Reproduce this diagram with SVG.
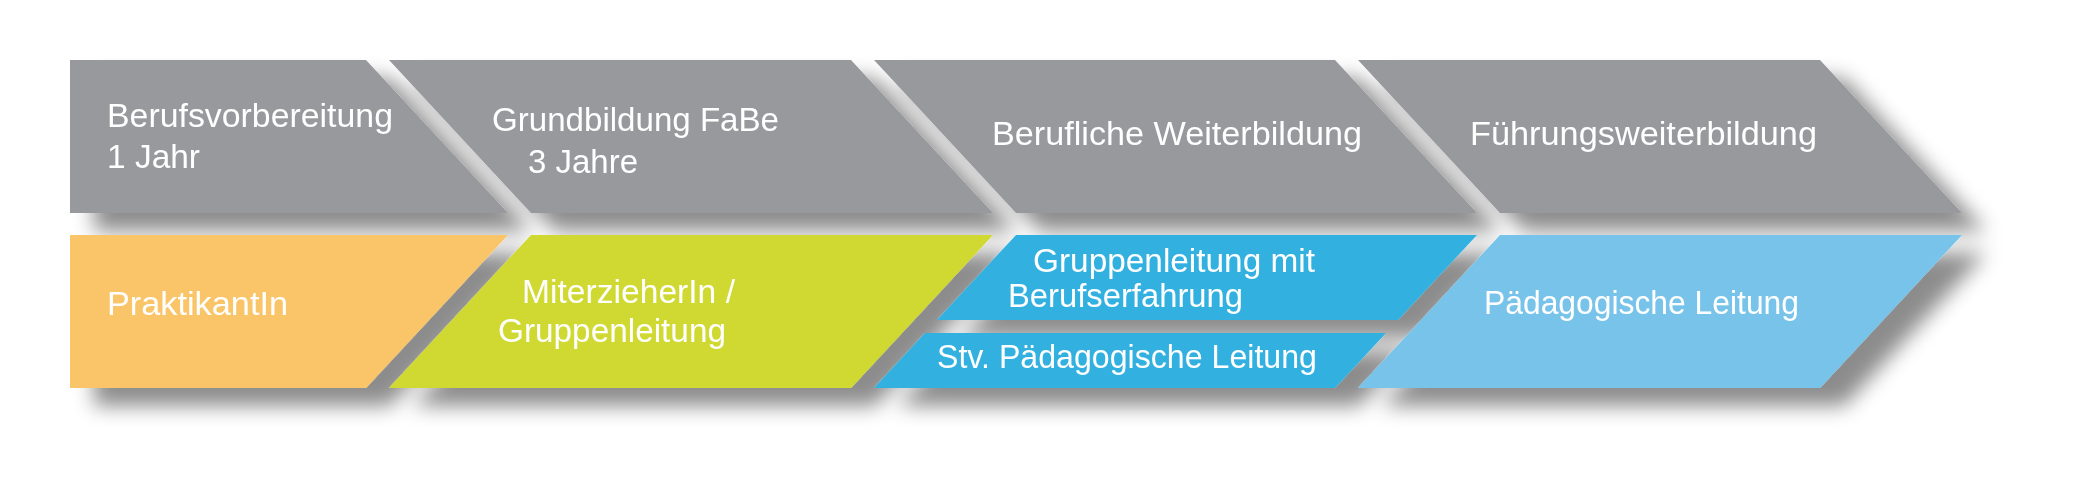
<svg xmlns="http://www.w3.org/2000/svg" width="2074" height="493" viewBox="0 0 2074 493">
<defs>
<style>
.t{fill:#ffffff;font-family:"Liberation Sans",Arial,sans-serif;font-size:33px;}
.gray{fill:#98999d;}
.orange{fill:#fac568;}
.green{fill:#d0d832;}
.blue{fill:#33b0e0;}
.lblue{fill:#78c3e9;}
</style>
<filter id="sh" x="-5%" y="-20%" width="115%" height="160%">
<feDropShadow dx="24" dy="18" stdDeviation="10" flood-color="#000000" flood-opacity="0.45"/>
</filter>
</defs>
<rect width="2074" height="493" fill="#ffffff"/>
<g filter="url(#sh)">
<g id="berufsvorbereitung">
<polygon class="gray" points="70,60 366,60 508,213 70,213"/>
<text class="t" x="107" y="127" textLength="286" lengthAdjust="spacingAndGlyphs">Berufsvorbereitung</text>
<text class="t" x="107" y="168" textLength="93" lengthAdjust="spacingAndGlyphs">1 Jahr</text>
</g>
<g id="grundbildung">
<polygon class="gray" points="389,60 851,60 993,213 531,213"/>
<text class="t" x="492" y="131" textLength="287" lengthAdjust="spacingAndGlyphs">Grundbildung FaBe</text>
<text class="t" x="528" y="173" textLength="110" lengthAdjust="spacingAndGlyphs">3 Jahre</text>
</g>
<g id="berufliche-weiterbildung">
<polygon class="gray" points="874,60 1335,60 1477,213 1016,213"/>
<text class="t" x="992" y="145" textLength="370" lengthAdjust="spacingAndGlyphs">Berufliche Weiterbildung</text>
</g>
<g id="fuehrungsweiterbildung">
<polygon class="gray" points="1358,60 1820,60 1962,213 1500,213"/>
<text class="t" x="1470" y="145" textLength="347" lengthAdjust="spacingAndGlyphs">Führungsweiterbildung</text>
</g>
<g id="praktikantin">
<polygon class="orange" points="70,235 508,235 366,388 70,388"/>
<text class="t" x="107" y="315" textLength="181" lengthAdjust="spacingAndGlyphs">PraktikantIn</text>
</g>
<g id="miterzieherin">
<polygon class="green" points="531,235 993,235 851,388 389,388"/>
<text class="t" x="522" y="303" textLength="213" lengthAdjust="spacingAndGlyphs">MiterzieherIn /</text>
<text class="t" x="498" y="342" textLength="228" lengthAdjust="spacingAndGlyphs">Gruppenleitung</text>
</g>
<g id="gruppenleitung-berufserfahrung">
<polygon class="blue" points="1016,235 1477,235 1398,320 937,320"/>
<text class="t" x="1033" y="272" textLength="282" lengthAdjust="spacingAndGlyphs">Gruppenleitung mit</text>
<text class="t" x="1008" y="307" textLength="235" lengthAdjust="spacingAndGlyphs">Berufserfahrung</text>
</g>
<g id="stv-paedagogische-leitung">
<polygon class="blue" points="925,333 1386,333 1335,388 874,388"/>
<text class="t" x="937" y="368" textLength="380" lengthAdjust="spacingAndGlyphs">Stv. Pädagogische Leitung</text>
</g>
<g id="paedagogische-leitung">
<polygon class="lblue" points="1500,235 1962,235 1820,388 1358,388"/>
<text class="t" x="1484" y="314" textLength="315" lengthAdjust="spacingAndGlyphs">Pädagogische Leitung</text>
</g>
</g>
</svg>
